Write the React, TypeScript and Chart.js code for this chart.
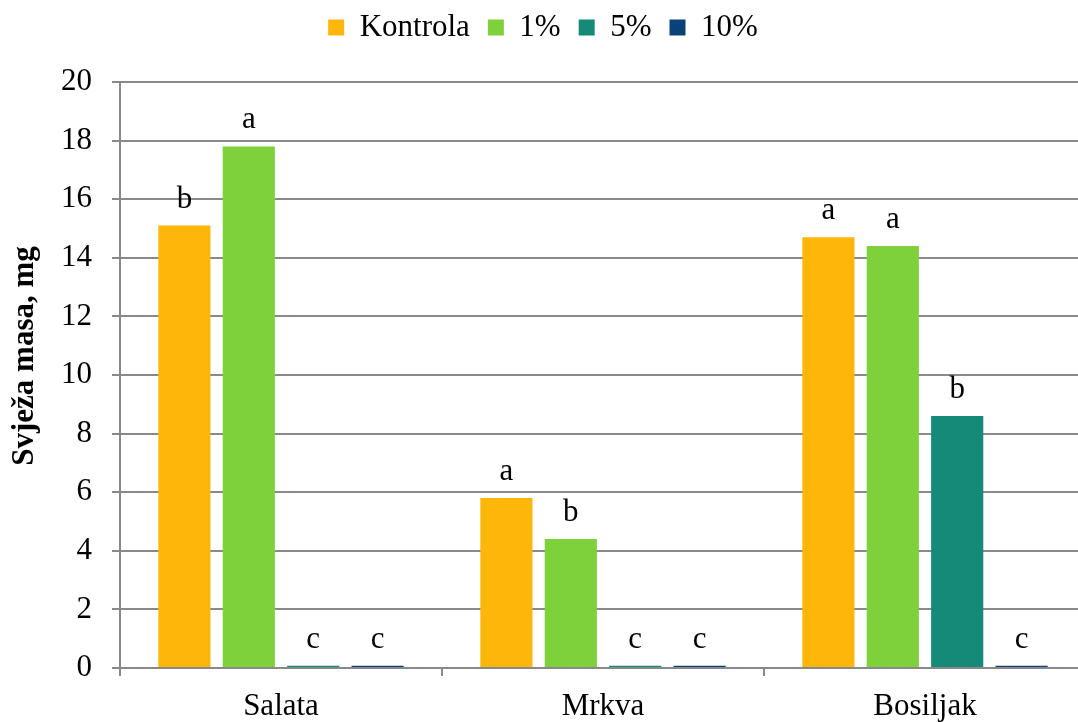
import React, { useEffect, useRef } from "react";
import { Chart, registerables } from "chart.js";

Chart.register(...registerables);

const categories = ["Salata", "Mrkva", "Bosiljak"];
const seriesNames = ["Kontrola", "1%", "5%", "10%"];
const kontrola = [15.1, 5.8, 14.7];
const p1 = [17.8, 4.4, 14.4];
const p5 = [0.08, 0.08, 8.6];
const p10 = [0.08, 0.08, 0.08];
const lettersKontrola = ["b", "a", "a"];
const letters1 = ["a", "b", "a"];
const letters5 = ["c", "c", "b"];
const letters10 = ["c", "c", "c"];
const yTicks = [0, 2, 4, 6, 8, 10, 12, 14, 16, 18, 20];
const yTitle = "Svježa masa, mg";
const colors = ["#FFB60A", "#7FD13B", "#158A78", "#0A4178"];

const FONT = "'Liberation Serif', 'Times New Roman', serif";

export default function App() {
  const ref = useRef<HTMLCanvasElement | null>(null);
  useEffect(() => {
    document.body.style.overflow = "hidden";
    const letters = [lettersKontrola, letters1, letters5, letters10];
    const labelPlugin = {
      id: "letters",
      afterDatasetsDraw(chart: any) {
        const ctx = chart.ctx;
        ctx.save();
        ctx.font = `31px ${FONT}`;
        ctx.fillStyle = "#000";
        ctx.textAlign = "center";
        ctx.textBaseline = "alphabetic";
        chart.data.datasets.forEach((ds: any, i: number) => {
          const meta = chart.getDatasetMeta(i);
          meta.data.forEach((el: any, j: number) => {
            ctx.fillText(letters[i][j], el.x, el.y - 18);
          });
        });
        ctx.restore();
      },
      afterDraw(chart: any) {
        const ctx = chart.ctx;
        const ca = chart.chartArea;
        ctx.save();
        ctx.font = `bold 31px ${FONT}`;
        ctx.fillStyle = "#000";
        ctx.textAlign = "center";
        ctx.textBaseline = "middle";
        ctx.translate(25, (ca.top + ca.bottom) / 2 - 19);
        ctx.rotate(-Math.PI / 2);
        ctx.fillText(yTitle, 0, 0);
        ctx.restore();
      },
    };
    const legendMargin = {
      id: "legendMargin",
      beforeInit(chart: any) {
        const orig = chart.legend.fit;
        chart.legend.fit = function () {
          orig.bind(chart.legend)();
          this.height += 29;
        };
      },
    };
    const chart = new Chart(ref.current!, {
      type: "bar",
      data: {
        labels: categories,
        datasets: [kontrola, p1, p5, p10].map((d, i) => ({
          label: seriesNames[i],
          data: d,
          backgroundColor: colors[i],
          borderWidth: 0,
          categoryPercentage: 0.8,
          barPercentage: 0.81,
        })),
      },
      options: {
        animation: false,
        responsive: false,
        maintainAspectRatio: false,
        layout: { padding: { left: 0, right: 0, top: -6, bottom: 0 } },
        plugins: {
          legend: {
            position: "top",
            labels: {
              font: { family: FONT, size: 31 },
              color: "#000",
              boxWidth: 16,
              boxHeight: 16,
              padding: 18,
            },
          },
          tooltip: { enabled: false },
        },
        scales: {
          x: {
            afterFit(scale: any) {
              scale.height = 54;
            },
            grid: {
              drawOnChartArea: false,
              drawTicks: true,
              tickLength: 8,
              offset: true,
              color: "#898989",
              lineWidth: 2,
            },
            border: { color: "#898989", width: 2 },
            ticks: {
              font: { family: FONT, size: 31 },
              color: "#000",
              padding: 12,
            },
          },
          y: {
            min: 0,
            max: 20,
            afterFit(scale: any) {
              scale.width = 120;
            },
            afterBuildTicks(scale: any) {
              scale.ticks = yTicks.map((v) => ({ value: v }));
            },
            grid: {
              color: "#898989",
              lineWidth: 2,
              tickLength: 8,
            },
            border: { color: "#898989", width: 2 },
            ticks: {
              font: { family: FONT, size: 31 },
              color: "#000",
              padding: 20,
            },
            title: { display: false },
          },
        },
      },
      plugins: [legendMargin, labelPlugin],
    });
    return () => chart.destroy();
  }, []);
  return (
    <div style={{ position: "absolute", left: 0, top: 0, width: 1086, height: 722 }}>
      <canvas ref={ref} width={1086} height={722} style={{ width: 1086, height: 722 }} />
    </div>
  );
}
